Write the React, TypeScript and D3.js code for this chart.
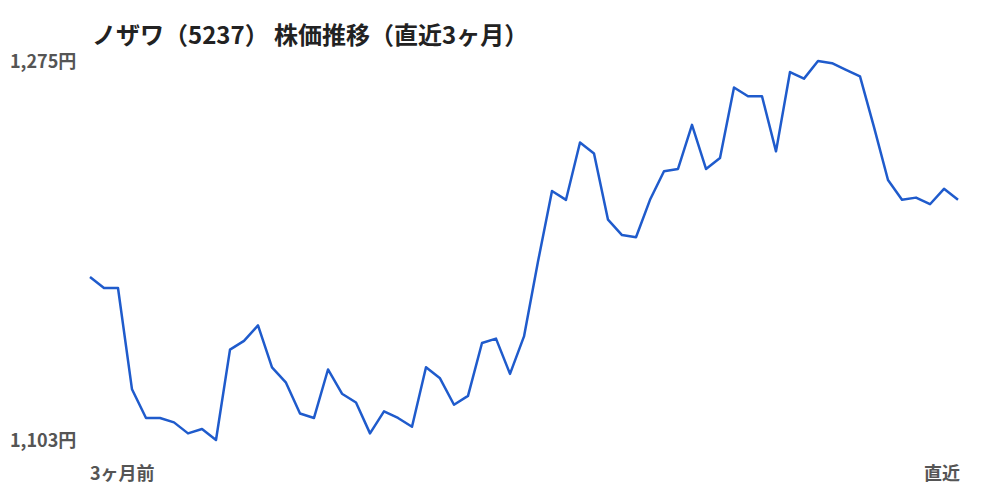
import { line, max, min, scaleLinear, select } from 'd3';
import { useEffect, useRef } from 'react';

// closing prices over the last 3 months
const prices = [
  1177, 1172, 1172, 1126, 1113, 1113, 1111, 1106, 1108, 1103,
  1144, 1148, 1155, 1136, 1129, 1115, 1113, 1135, 1124, 1120,
  1106, 1116, 1113, 1109, 1136, 1131, 1119, 1123, 1147, 1149,
  1133, 1150, 1184, 1216, 1212, 1238, 1233, 1203, 1196, 1195,
  1212, 1225, 1226, 1246, 1226, 1231, 1263, 1259, 1259, 1234,
  1270, 1267, 1275, 1274, 1271, 1268, 1245, 1221, 1212, 1213,
  1210, 1217, 1212
];
const xLabels = ['3ヶ月前', '直近'];
const title = 'ノザワ（5237） 株価推移（直近3ヶ月）';

const FONT = '"Noto Sans CJK JP", "Noto Sans", sans-serif';

function App(): JSX.Element {
  const svgRef = useRef<SVGSVGElement | null>(null);
  const width = 1000;
  const height = 500;

  useEffect(() => {
    if (svgRef.current) svgRef.current.innerHTML = '';
    const svg = select(svgRef.current);

    const lo = min(prices) as number;
    const hi = max(prices) as number;

    const x = scaleLinear().domain([0, prices.length - 1]).range([90, 958]);
    const y = scaleLinear().domain([lo, hi]).range([440, 61]);

    // title
    svg
      .append('text')
      .attr('x', 92)
      .attr('y', 44)
      .text(title)
      .attr('fill', '#222')
      .attr('font-family', FONT)
      .attr('font-weight', 'bold')
      .attr('font-size', '24px');

    // y labels: max & min
    [hi, lo].forEach((v) => {
      svg
        .append('text')
        .attr('x', 10)
        .attr('y', y(v) + 1)
        .attr('dy', '0.35em')
        .text(`${v.toLocaleString('en-US')}円`)
        .attr('fill', '#555')
        .attr('font-family', FONT)
        .attr('font-weight', 600)
        .attr('font-size', '18px');
    });

    // x labels
    svg
      .append('text')
      .attr('x', x(0))
      .attr('y', 480)
      .text(xLabels[0])
      .attr('fill', '#555')
      .attr('font-family', FONT)
      .attr('font-weight', 600)
      .attr('font-size', '18px');

    svg
      .append('text')
      .attr('x', x(prices.length - 1) + 2)
      .attr('y', 480)
      .style('text-anchor', 'end')
      .text(xLabels[1])
      .attr('fill', '#555')
      .attr('font-family', FONT)
      .attr('font-weight', 600)
      .attr('font-size', '18px');

    const lineGen = line<number>()
      .x((_d, i) => x(i))
      .y((d) => y(d));

    svg
      .append('path')
      .datum(prices)
      .attr('d', lineGen)
      .attr('fill', 'none')
      .attr('stroke', '#1f5bcc')
      .attr('stroke-width', 2.5)
      .attr('stroke-linejoin', 'round');
  }, []);

  return (
    <div style={{ position: 'absolute', left: 0, top: 0 }}>
      <svg ref={svgRef} width={width} height={height} style={{ display: 'block' }} />
    </div>
  );
}

export default App;
